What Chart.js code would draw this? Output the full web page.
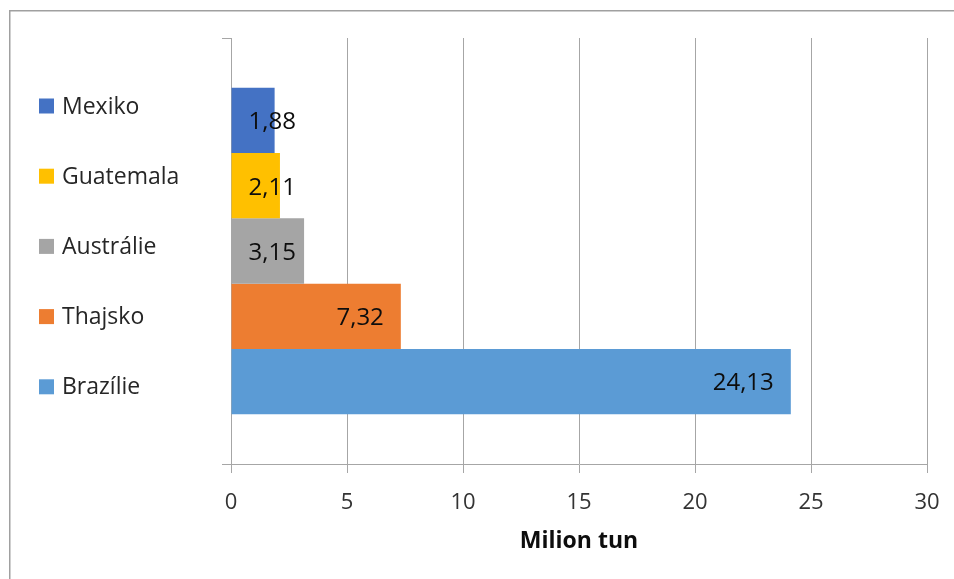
<!DOCTYPE html>
<html>
<head>
<meta charset="utf-8">
<script src="https://cdn.jsdelivr.net/npm/chart.js@4.4.1/dist/chart.umd.min.js"></script>
<style>
html,body{margin:0;padding:0;background:#fff;}
#wrap{position:relative;width:954px;height:579px;}
</style>
</head>
<body>
<div id="wrap"><canvas id="c" width="954" height="579"></canvas></div>
<script>
// ---- data ----
const countries = ['Mexiko', 'Guatemala', 'Austrálie', 'Thajsko', 'Brazílie'];
const production = [1.88, 2.11, 3.15, 7.32, 24.13];
const colors = ['#4472C4', '#FFC000', '#A5A5A5', '#ED7D31', '#5B9BD5'];
const xTicks = [0, 5, 10, 15, 20, 25, 30];
const axisTitle = 'Milion tun';

const FONT = '"Open Sans", "DejaVu Sans", sans-serif';
Chart.defaults.font.family = FONT;

function fmt(v) { return v.toFixed(2).replace('.', ','); }

const framePlugin = {
  id: 'frame',
  beforeDraw(chart) {
    const ctx = chart.ctx;
    ctx.save();
    ctx.strokeStyle = '#a0a0a0';
    ctx.lineWidth = 1.5;
    ctx.beginPath();
    ctx.moveTo(9.75, chart.height);
    ctx.lineTo(9.75, 10.75);
    ctx.lineTo(chart.width, 10.75);
    ctx.stroke();
    ctx.restore();
  }
};

const legendPlugin = {
  id: 'sideLegend',
  afterDraw(chart) {
    const ctx = chart.ctx;
    ctx.save();
    ctx.font = '23px ' + FONT;
    ctx.textBaseline = 'middle';
    ctx.textAlign = 'left';
    chart.data.datasets.forEach((ds, i) => {
      const cy = 106 + i * 70.2;
      ctx.fillStyle = ds.backgroundColor;
      ctx.fillRect(39, cy - 7.5, 15, 15);
      ctx.fillStyle = '#262626';
      ctx.fillText(ds.label, 62, cy + 1);
    });
    ctx.restore();
  }
};

const valueLabels = {
  id: 'valueLabels',
  afterDatasetsDraw(chart) {
    const ctx = chart.ctx;
    ctx.save();
    ctx.font = '24px ' + FONT;
    ctx.fillStyle = '#0d0d0d';
    ctx.textAlign = 'right';
    ctx.textBaseline = 'middle';
    chart.data.datasets.forEach((ds, i) => {
      const meta = chart.getDatasetMeta(i);
      meta.data.forEach((bar, j) => {
        const txt = fmt(ds.data[j]);
        const w = ctx.measureText(txt).width;
        const inset = 17;
        const right = Math.max(bar.x - inset, bar.base + inset + w);
        ctx.fillText(txt, right, bar.y + 2);
      });
    });
    ctx.restore();
  }
};

const datasets = countries.map((name, i) => ({
  label: name,
  data: [production[i]],
  backgroundColor: colors[i],
  borderWidth: 0,
  barPercentage: 1,
  categoryPercentage: 0.7666
}));

new Chart(document.getElementById('c'), {
  type: 'bar',
  data: { labels: [''], datasets },
  options: {
    indexAxis: 'y',
    responsive: false,
    animation: false,
    devicePixelRatio: 1,
    layout: { padding: { left: 222, top: 38, right: 27, bottom: 24 } },
    plugins: {
      legend: { display: false },
      tooltip: { enabled: false }
    },
    scales: {
      x: {
        type: 'linear',
        min: 0,
        max: 30,
        afterBuildTicks: (s) => { s.ticks = xTicks.map(v => ({ value: v })); },
        afterFit: (s) => { s.paddingLeft = 0; s.paddingRight = 0; },
        ticks: { font: { size: 22 }, color: '#333', padding: 17, maxRotation: 0 },
        grid: { color: '#a6a6a6', lineWidth: 1, tickLength: 9, drawTicks: true },
        border: { color: '#a6a6a6', width: 1 },
        title: { display: true, text: axisTitle, font: { size: 23, weight: 'bold' }, color: '#0d0d0d', padding: { top: -6, bottom: 0 } }
      },
      y: {
        type: 'category',
        offset: true,
        ticks: { display: false },
        grid: { offset: true, drawOnChartArea: false, drawTicks: true, tickLength: 9, color: '#a6a6a6' },
        border: { color: '#a6a6a6', width: 1 }
      }
    }
  },
  plugins: [framePlugin, legendPlugin, valueLabels]
});
</script>
</body>
</html>
